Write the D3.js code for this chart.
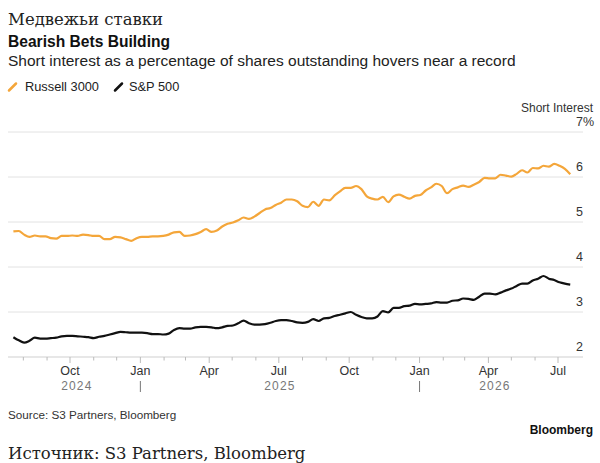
<!DOCTYPE html>
<html>
<head>
<meta charset="utf-8">
<script src="https://cdn.jsdelivr.net/npm/d3@7"></script>
<style>
    body { margin: 0; background: #fff; }
    text { font-family: "Liberation Sans", Arial, sans-serif; }
    .serif { font-family: "DejaVu Serif", "Liberation Serif", serif; }
</style>
</head>
<body>
<div id="chart"></div>
<script>
const RUSSELL_COLOR = "#f4a63a";
const SP_COLOR = "#111111";

// weekly observations (Fridays)
const dates = [
    "2024-07-19", "2024-07-26", "2024-08-02", "2024-08-09", "2024-08-16", "2024-08-23", "2024-08-30",
    "2024-09-06", "2024-09-13", "2024-09-20", "2024-09-27", "2024-10-04", "2024-10-11", "2024-10-18",
    "2024-10-25", "2024-11-01", "2024-11-08", "2024-11-15", "2024-11-22", "2024-11-29", "2024-12-06",
    "2024-12-13", "2024-12-20", "2024-12-27", "2025-01-03", "2025-01-10", "2025-01-17", "2025-01-24",
    "2025-01-31", "2025-02-07", "2025-02-14", "2025-02-21", "2025-02-28", "2025-03-07", "2025-03-14",
    "2025-03-21", "2025-03-28", "2025-04-04", "2025-04-11", "2025-04-18", "2025-04-25", "2025-05-02",
    "2025-05-09", "2025-05-16", "2025-05-23", "2025-05-30", "2025-06-06", "2025-06-13", "2025-06-20",
    "2025-06-27", "2025-07-04", "2025-07-11", "2025-07-18", "2025-07-25", "2025-08-01", "2025-08-08",
    "2025-08-15", "2025-08-22", "2025-08-29", "2025-09-05", "2025-09-12", "2025-09-19", "2025-09-26",
    "2025-10-03", "2025-10-10", "2025-10-17", "2025-10-24", "2025-10-31", "2025-11-07", "2025-11-14",
    "2025-11-21", "2025-11-28", "2025-12-05", "2025-12-12", "2025-12-19", "2025-12-26", "2026-01-02",
    "2026-01-09", "2026-01-16", "2026-01-23", "2026-01-30", "2026-02-06", "2026-02-13", "2026-02-20",
    "2026-02-27", "2026-03-06", "2026-03-13", "2026-03-20", "2026-03-27", "2026-04-03", "2026-04-10",
    "2026-04-17", "2026-04-24", "2026-05-01", "2026-05-08", "2026-05-15", "2026-05-22", "2026-05-29",
    "2026-06-05", "2026-06-12", "2026-06-19", "2026-06-26", "2026-07-03", "2026-07-10", "2026-07-17"
];

const russell3000 = [
    4.79, 4.80, 4.72, 4.67, 4.70, 4.68, 4.68, 4.64, 4.63, 4.69, 4.69, 4.70, 4.69, 4.72, 4.71,
    4.69, 4.69, 4.62, 4.62, 4.67, 4.66, 4.62, 4.58, 4.64, 4.67, 4.67, 4.68, 4.68, 4.69, 4.72,
    4.77, 4.78, 4.69, 4.70, 4.73, 4.78, 4.84, 4.78, 4.81, 4.90, 4.96, 4.99, 5.04, 5.10, 5.07,
    5.12, 5.20, 5.28, 5.31, 5.38, 5.43, 5.50, 5.50, 5.46, 5.36, 5.33, 5.45, 5.36, 5.50, 5.48,
    5.59, 5.68, 5.76, 5.76, 5.80, 5.73, 5.57, 5.52, 5.50, 5.56, 5.44, 5.57, 5.61, 5.56, 5.52,
    5.58, 5.60, 5.70, 5.77, 5.85, 5.80, 5.64, 5.73, 5.77, 5.81, 5.78, 5.83, 5.89, 5.98, 5.97,
    5.97, 6.05, 6.03, 6.01, 6.07, 6.15, 6.10, 6.20, 6.19, 6.25, 6.23, 6.29, 6.25, 6.18, 6.06
];

const sp500 = [
    2.44, 2.37, 2.32, 2.36, 2.43, 2.41, 2.41, 2.42, 2.43, 2.46, 2.47, 2.47, 2.46, 2.45, 2.44,
    2.42, 2.45, 2.47, 2.50, 2.53, 2.56, 2.55, 2.54, 2.54, 2.54, 2.53, 2.51, 2.51, 2.50, 2.52,
    2.60, 2.64, 2.63, 2.63, 2.66, 2.67, 2.67, 2.66, 2.64, 2.66, 2.69, 2.70, 2.75, 2.81, 2.75,
    2.72, 2.72, 2.73, 2.76, 2.80, 2.82, 2.82, 2.80, 2.77, 2.76, 2.78, 2.84, 2.80, 2.86, 2.87,
    2.91, 2.94, 2.97, 3.00, 2.94, 2.89, 2.86, 2.86, 2.90, 3.02, 2.99, 3.09, 3.09, 3.13, 3.14,
    3.18, 3.17, 3.18, 3.19, 3.22, 3.21, 3.21, 3.25, 3.26, 3.30, 3.29, 3.27, 3.34, 3.41, 3.41,
    3.39, 3.43, 3.48, 3.52, 3.58, 3.63, 3.63, 3.70, 3.74, 3.80, 3.74, 3.71, 3.66, 3.63, 3.61
];

const yTicks = [2, 3, 4, 5, 6, 7];
const monthLabels = ["Jan", "Feb", "Mar", "Apr", "May", "Jun", "Jul", "Aug", "Sep", "Oct", "Nov", "Dec"];
const years = [
    { label: "2024", start: "2024-07-19", end: "2025-01-01" },
    { label: "2025", start: "2025-01-01", end: "2026-01-01" },
    { label: "2026", start: "2026-01-01", end: "2026-07-17" }
];

class ShortInterestVis {
    constructor(_parentElement) {
        this.parentElement = _parentElement;
        this.initVis();
    }

    initVis() {
        let vis = this;

        vis.width = 600;
        vis.height = 463;
        vis.plot = { left: 8, right: 583, top: 132, bottom: 357 };

        vis.svg = d3
            .select(`#${vis.parentElement}`)
            .append("svg")
            .attr("width", vis.width)
            .attr("height", vis.height);

        const parse = d3.timeParse("%Y-%m-%d");
        vis.parse = parse;

        vis.x = d3
            .scaleTime()
            .domain([parse("2024-10-01"), parse("2026-07-01")])
            .range([70, 558]);

        vis.y = d3
            .scaleLinear()
            .domain([2, 7])
            .range([vis.plot.bottom, vis.plot.top]);

        vis.wrangleData();
    }

    wrangleData() {
        let vis = this;
        vis.series = [
            { name: "Russell 3000", color: RUSSELL_COLOR, values: dates.map((d, i) => ({ date: vis.parse(d), value: russell3000[i] })) },
            { name: "S&P 500", color: SP_COLOR, values: dates.map((d, i) => ({ date: vis.parse(d), value: sp500[i] })) }
        ];
        vis.updateVis();
    }

    updateVis() {
        let vis = this;
        const p = vis.plot;

        // headers
        vis.svg.append("text").attr("class", "serif")
            .attr("x", 8).attr("y", 25)
            .attr("font-size", 16.5).attr("fill", "#222")
            .text("Медвежьи ставки");
        vis.svg.append("text")
            .attr("x", 8).attr("y", 47)
            .attr("font-size", 15.6).attr("font-weight", "bold").attr("fill", "#111")
            .text("Bearish Bets Building");
        vis.svg.append("text")
            .attr("x", 8).attr("y", 65.5)
            .attr("font-size", 15.5).attr("fill", "#222")
            .text("Short interest as a percentage of shares outstanding hovers near a record");

        // legend
        const legend = vis.svg.selectAll(".legend")
            .data(vis.series)
            .enter()
            .append("g")
            .attr("class", "legend")
            .attr("transform", (d, i) => `translate(${i === 0 ? 8 : 114},0)`);
        legend.append("line")
            .attr("x1", 1).attr("y1", 90.5).attr("x2", 8).attr("y2", 83.5)
            .attr("stroke", (d) => d.color)
            .attr("stroke-width", 2.5)
            .attr("stroke-linecap", "round");
        legend.append("text")
            .attr("x", (d, i) => (i === 0 ? 17 : 15)).attr("y", 91)
            .attr("font-size", 12.8).attr("fill", "#222")
            .text((d) => d.name);

        // gridlines + y labels
        vis.svg.selectAll(".grid")
            .data(yTicks)
            .enter()
            .append("line")
            .attr("class", "grid")
            .attr("x1", p.left).attr("x2", p.right)
            .attr("y1", (d) => vis.y(d)).attr("y2", (d) => vis.y(d))
            .attr("stroke", (d) => (d === 2 ? "#cfcfcf" : "#e2e2e2"))
            .attr("stroke-width", 1);

        vis.svg.selectAll(".ylab")
            .data(yTicks)
            .enter()
            .append("text")
            .attr("class", "ylab")
            .attr("x", p.right).attr("y", (d) => vis.y(d) - 6)
            .attr("text-anchor", "end")
            .attr("font-size", 12.5).attr("fill", "#333")
            .text((d) => d);
        vis.svg.append("text")
            .attr("x", p.right).attr("y", vis.y(7) - 6)
            .attr("font-size", 12.5).attr("fill", "#333")
            .text("%");
        vis.svg.append("text")
            .attr("x", 593).attr("y", 112)
            .attr("text-anchor", "end")
            .attr("font-size", 12).attr("fill", "#333")
            .text("Short Interest");

        // x axis: monthly ticks, quarters labelled
        const months = d3.timeMonth.range(vis.parse("2024-08-01"), vis.parse("2026-07-02"));
        vis.svg.selectAll(".xtick")
            .data(months)
            .enter()
            .append("line")
            .attr("class", "xtick")
            .attr("x1", (d) => vis.x(d)).attr("x2", (d) => vis.x(d))
            .attr("y1", p.bottom)
            .attr("y2", (d) => p.bottom + (d.getMonth() % 3 === 0 ? 6 : 3.5))
            .attr("stroke", "#bbb");
        vis.svg.selectAll(".xlab")
            .data(months.filter((d) => d.getMonth() % 3 === 0))
            .enter()
            .append("text")
            .attr("class", "xlab")
            .attr("x", (d) => vis.x(d)).attr("y", 375)
            .attr("text-anchor", "middle")
            .attr("font-size", 12.5).attr("fill", "#333")
            .text((d) => monthLabels[d.getMonth()]);

        vis.svg.selectAll(".year")
            .data(years)
            .enter()
            .append("text")
            .attr("class", "year")
            .attr("x", (d) => (vis.x(vis.parse(d.start)) + vis.x(vis.parse(d.end))) / 2)
            .attr("y", 390)
            .attr("text-anchor", "middle")
            .attr("font-size", 12).attr("letter-spacing", 1.2).attr("fill", "#777")
            .text((d) => d.label);
        vis.svg.selectAll(".yearsep")
            .data(years.slice(1))
            .enter()
            .append("line")
            .attr("class", "yearsep")
            .attr("x1", (d) => vis.x(vis.parse(d.start))).attr("x2", (d) => vis.x(vis.parse(d.start)))
            .attr("y1", 381).attr("y2", 392)
            .attr("stroke", "#777");

        // series lines
        const line = d3.line()
            .x((d) => vis.x(d.date))
            .y((d) => vis.y(d.value))
            .curve(d3.curveMonotoneX);
        vis.svg.selectAll(".series")
            .data(vis.series)
            .enter()
            .append("path")
            .attr("class", "series")
            .attr("d", (d) => line(d.values))
            .attr("fill", "none")
            .attr("stroke", (d) => d.color)
            .attr("stroke-width", 2.2)
            .attr("stroke-linejoin", "round");

        // footer
        vis.svg.append("text")
            .attr("x", 8).attr("y", 419)
            .attr("font-size", 11.7).attr("fill", "#333")
            .text("Source: S3 Partners, Bloomberg");
        vis.svg.append("text")
            .attr("x", 593).attr("y", 434)
            .attr("text-anchor", "end")
            .attr("font-size", 12).attr("font-weight", "bold").attr("fill", "#111")
            .text("Bloomberg");
        vis.svg.append("text").attr("class", "serif")
            .attr("x", 8).attr("y", 459)
            .attr("font-size", 16.5).attr("fill", "#222")
            .text("Источник: S3 Partners, Bloomberg");
    }
}

new ShortInterestVis("chart");
</script>
</body>
</html>
